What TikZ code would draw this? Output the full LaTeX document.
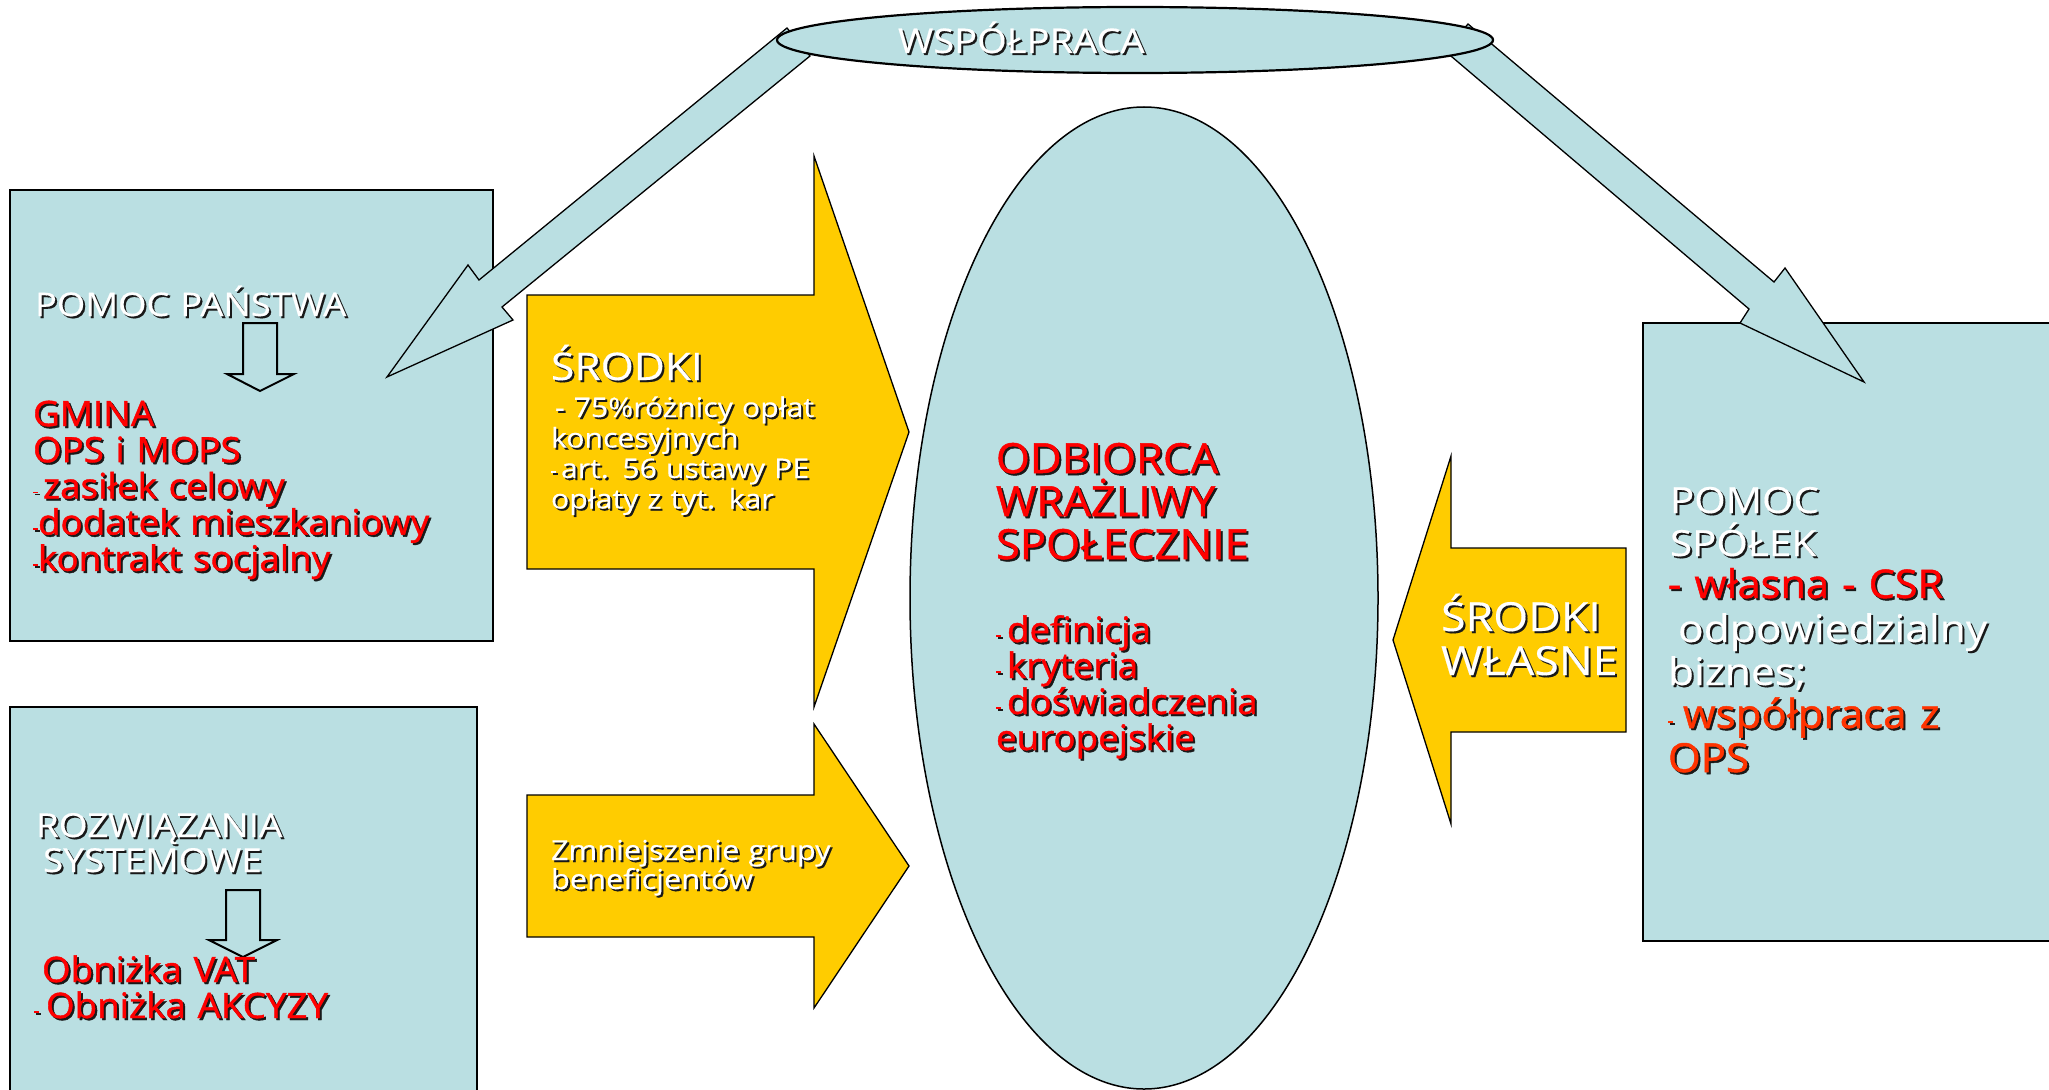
\documentclass[tikz,border=0pt]{standalone}
\usepackage{fontspec}
\setmainfont{Open Sans}
\newfontfamily\wf{Open Sans}[FakeStretch=1.12,FakeBold=0.3]
\newfontfamily\rf{Open Sans}[FakeBold=1.2,FakeStretch=1.05]
\definecolor{lb}{RGB}{186,223,226}
\definecolor{yl}{RGB}{255,204,0}
\definecolor{rd}{RGB}{255,0,0}
\definecolor{orr}{RGB}{255,51,0}
\definecolor{shc}{RGB}{25,25,25}
\newcommand\sd{\rule[5pt]{5pt}{1.6pt}}
\newcommand\shtext[4]{%
  \node[tb,#3,text=shc,xshift=2pt,yshift=-2pt] at (#2) {#4};
  \node[tb,#3] (#1) at (#2) {#4};}
\tikzset{
  panel/.style={draw=black, line width=2pt, fill=lb},
  yarrow/.style={draw=black, line width=1.3pt, fill=yl, line join=miter},
  barrow/.style={draw=black, line width=1.3pt, fill=lb, line join=miter},
  sarrow/.style={draw=black, line width=2pt, fill=lb, line join=miter},
  tb/.style={anchor=base west, inner sep=0pt, outer sep=0pt, align=left, text width=600pt},
  wt/.style={text=white, font=\wf\fontsize{#1}{#1}\selectfont},
}
\begin{document}
\begin{tikzpicture}[x=1pt,y=-1pt]
\useasboundingbox (0,0) rectangle (2049,1089);
\clip (0,0) rectangle (2049,1089);
\fill[white] (0,0) rectangle (2049,1089);

% panels
\draw[panel] (10,190) rectangle (493,641);
\draw[panel] (10,707) rectangle (477,1100);
\draw[panel] (1643,323) rectangle (2060,941);

% yellow arrows
\draw[yarrow] (527,295) -- (814,295) -- (814,156) -- (909,432) -- (814,707) -- (814,569) -- (527,569) -- cycle;
\draw[yarrow] (527,795) -- (814,795) -- (814,724) -- (909,866) -- (814,1008) -- (814,937) -- (527,937) -- cycle;
\draw[yarrow] (1626,548) -- (1451,548) -- (1451,456) -- (1393,640) -- (1451,824) -- (1451,732) -- (1626,732) -- cycle;

% central ellipse
\draw[draw=black, line width=1.5pt, fill=lb] (1144,598) ellipse [x radius=234, y radius=491];

% big blue arrows
\draw[barrow] (787,28) -- (479,280) -- (468,265) -- (387,377) -- (513,320) -- (502,307) -- (810,56) -- cycle;
\draw[barrow] (1468,24) -- (1774,282) -- (1785,268) -- (1864,382) -- (1740,323) -- (1749,309) -- (1445,51) -- cycle;

% top ellipse
\draw[draw=black, line width=2.2pt, fill=lb] (1135,40) ellipse [x radius=358, y radius=33];

% small down arrows
\draw[sarrow] (243,323) -- (277,323) -- (277,374) -- (294,374) -- (260,391) -- (227,374) -- (243,374) -- cycle;
\draw[sarrow] (226,890) -- (260,890) -- (260,940) -- (277,940) -- (243,957) -- (209,940) -- (226,940) -- cycle;

% texts
\shtext{twsp}{898,53}{wt=34}{WSPÓŁPRACA}
\shtext{tpp}{35,316}{wt=32.5}{POMOC PAŃSTWA}
\shtext{tgm}{33,426}{text=rd,font=\rf\fontsize{35}{36.2}\selectfont}{GMINA\\OPS i MOPS\\\sd\hspace{5pt}zasiłek celowy\\\sd dodatek mieszkaniowy\\\sd kontrakt socjalny}
\shtext{trs}{36,837}{text=white,font=\wf\fontsize{33}{35}\selectfont}{ROZWIĄZANIA\\\hspace*{7pt}SYSTEMOWE}
\shtext{tob}{34,982}{text=rd,font=\rf\fontsize{35}{36}\selectfont}{\hspace*{8pt}Obniżka VAT\\\sd\hspace{7pt}Obniżka AKCYZY}
\shtext{tsr}{551,380}{wt=38}{ŚRODKI}
\shtext{tsrb}{551,417}{text=white,font=\wf\fontsize{27}{30.5}\selectfont}{\hspace*{4pt}- 75\%różnicy opłat\\koncesyjnych\\\sd\hspace{5pt}art. 56 ustawy PE\\opłaty z tyt. kar}
\shtext{tzm}{551,860}{text=white,font=\wf\fontsize{27.5}{29}\selectfont}{Zmniejszenie grupy\\beneficjentów}
\shtext{tod}{996,473}{text=rd,font=\rf\fontsize{41.5}{43}\selectfont}{ODBIORCA\\WRAŻLIWY\\SPOŁECZNIE}
\shtext{tdef}{996,642}{text=rd,font=\rf\fontsize{35}{36}\selectfont}{\sd\hspace{6pt}definicja\\\sd\hspace{6pt}kryteria\\\sd\hspace{6pt}doświadczenia\\europejskie}
\shtext{tsw}{1441,631}{text=white,font=\wf\fontsize{40}{44}\selectfont}{ŚRODKI\\WŁASNE}
\shtext{tps}{1670,513}{text=white,font=\wf\fontsize{36}{43}\selectfont}{POMOC\\SPÓŁEK}
\shtext{tws}{1668,598}{text=rd,font=\rf\fontsize{39.5}{43}\selectfont}{- własna - CSR}
\shtext{tbiz}{1668,642}{text=white,font=\wf\fontsize{38}{43}\selectfont}{\hspace*{10pt}odpowiedzialny\\biznes;}
\shtext{twp}{1668,728}{text=orr,font=\rf\fontsize{40}{44}\selectfont}{\sd\hspace{10pt}współpraca z\\OPS}
\end{tikzpicture}
\end{document}
